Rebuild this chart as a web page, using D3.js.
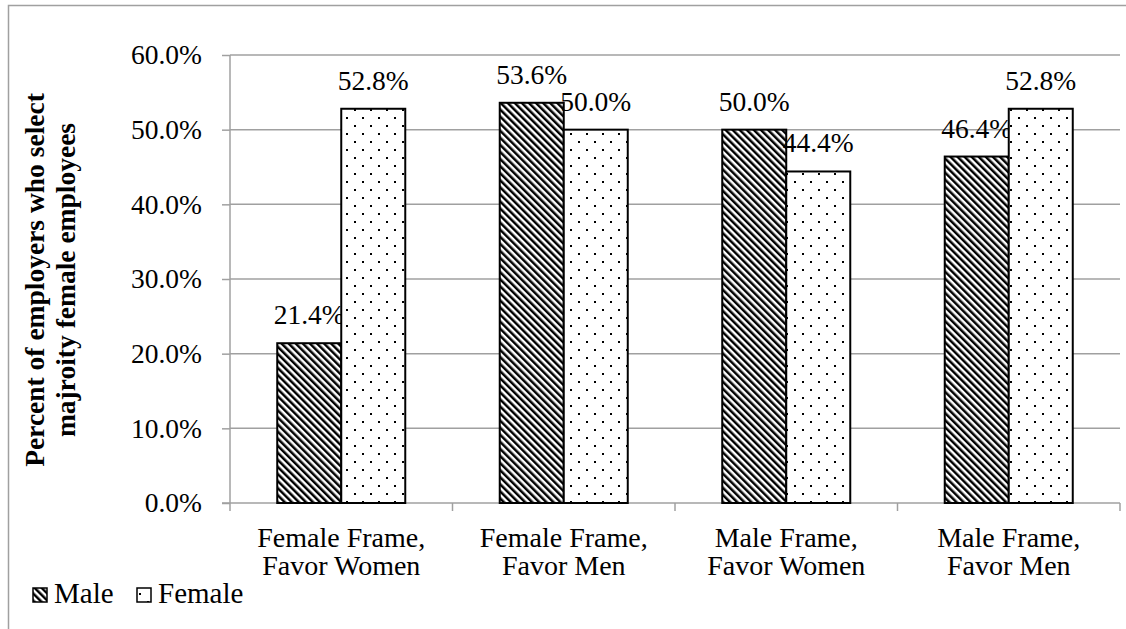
<!DOCTYPE html>
<html>
<head>
<meta charset="utf-8">
<script src="https://cdn.jsdelivr.net/npm/d3@7"></script>
<style>
body { margin: 0; background: #fff; }
svg text { font-family: "Liberation Serif", "Times New Roman", "DejaVu Serif", serif; }
</style>
</head>
<body>
<svg id="vis"></svg>
<script>
const categories = [['Female Frame,', 'Favor Women'], ['Female Frame,', 'Favor Men'], ['Male Frame,', 'Favor Women'], ['Male Frame,', 'Favor Men']];
const seriesNames = ['Male', 'Female'];
const maleValues = [21.4, 53.6, 50.0, 46.4];
const femaleValues = [52.8, 50.0, 44.4, 52.8];
const yTicks = [0, 10, 20, 30, 40, 50, 60];
const yTitle = ['Percent of employers who select', 'majroity female employees'];

const width = 1126, height = 629;
const margin = {left: 230, right: 6, top: 55, bottom: 126};
const FONT = '"Liberation Serif", "Times New Roman", serif';
const FS = 27.5;
const GRID = '#a0a0a0';

var svg = d3.select('#vis').attr('width', width).attr('height', height)
    .attr('font-family', FONT);
var defs = svg.append('defs');

// diagonal stripes for male
var stripe = defs.append('pattern').attr('id', 'stripes')
    .attr('patternUnits', 'userSpaceOnUse').attr('width', 5).attr('height', 5)
    .attr('patternTransform', 'rotate(-45)');
stripe.append('rect').attr('width', 5).attr('height', 5).attr('fill', 'white');
stripe.append('rect').attr('x', 0).attr('width', 2.5).attr('height', 5).attr('fill', 'black');

// dots for female
var dots = defs.append('pattern').attr('id', 'dots')
    .attr('patternUnits', 'userSpaceOnUse').attr('width', 16).attr('height', 16);
dots.append('rect').attr('width', 16).attr('height', 16).attr('fill', 'white');
dots.append('rect').attr('x', 2).attr('y', 13).attr('width', 2).attr('height', 2).attr('fill', 'black');
dots.append('rect').attr('x', 10).attr('y', 5).attr('width', 2).attr('height', 2).attr('fill', 'black');

var fills = ['url(#stripes)', 'url(#dots)'];

// outer chart border
svg.append('rect').attr('x', 8.5).attr('y', 5.5).attr('width', width).attr('height', height)
    .attr('fill', 'none').attr('stroke', GRID).attr('stroke-width', 1.5);

var x0 = d3.scaleBand().domain(d3.range(categories.length))
    .range([margin.left, width - margin.right]);
var x1 = d3.scaleBand().domain(seriesNames).range([0, x0.bandwidth()]).paddingInner(0).paddingOuter(0.738);
var y = d3.scaleLinear().domain([0, 60]).range([height - margin.bottom, margin.top]);

// gridlines
svg.append('g').selectAll('line').data(yTicks.slice(1)).join('line')
    .attr('x1', margin.left).attr('x2', width - margin.right)
    .attr('y1', d => y(d)).attr('y2', d => y(d))
    .attr('stroke', GRID).attr('stroke-width', 1.5);

// y axis
var yAxis = svg.append('g').attr('transform', 'translate(' + margin.left + ',0)')
    .call(d3.axisLeft(y).tickValues(yTicks).tickSize(8).tickPadding(20).tickFormat(d => d.toFixed(1) + '%'));
yAxis.attr('font-family', FONT).attr('font-size', FS);
yAxis.select('.domain').attr('stroke', GRID).attr('stroke-width', 1.5).attr('d', 'M0,' + y(60) + 'V' + y(0));
yAxis.selectAll('.tick line').attr('stroke', GRID).attr('stroke-width', 1.5);
yAxis.selectAll('.tick text').attr('fill', 'black');

// x axis
var xAxis = svg.append('g').attr('transform', 'translate(0,' + y(0) + ')');
xAxis.append('line').attr('x1', margin.left - 8).attr('x2', width - margin.right)
    .attr('stroke', GRID).attr('stroke-width', 1.5);
xAxis.selectAll('.xt').data(d3.range(categories.length + 1)).join('line')
    .attr('x1', d => margin.left + d * x0.step()).attr('x2', d => margin.left + d * x0.step())
    .attr('y1', 0).attr('y2', 8).attr('stroke', GRID).attr('stroke-width', 1.5);
categories.forEach(function(c, i) {
    var cx = x0(i) + x0.bandwidth() / 2;
    var t = xAxis.append('text').attr('text-anchor', 'middle').attr('font-size', 28);
    c.forEach(function(line, j) {
        t.append('tspan').attr('x', cx).attr('y', 44 + j * 28).text(line);
    });
});

// bars
var series = [maleValues, femaleValues];
series.forEach(function(vals, s) {
    var g = svg.append('g');
    g.selectAll('rect').data(vals).join('rect')
        .attr('x', (d, i) => x0(i) + x1(seriesNames[s]))
        .attr('y', d => y(d))
        .attr('width', x1.bandwidth())
        .attr('height', d => y(0) - y(d))
        .attr('fill', fills[s]).attr('stroke', 'black').attr('stroke-width', 2);
    g.selectAll('text').data(vals).join('text')
        .attr('x', (d, i) => x0(i) + x1(seriesNames[s]) + x1.bandwidth() / 2)
        .attr('y', d => y(d) - 19)
        .attr('text-anchor', 'middle').attr('font-size', FS)
        .text(d => d.toFixed(1) + '%');
});

// y title
var title = svg.append('text').attr('transform', 'translate(44,280) rotate(-90)')
    .attr('text-anchor', 'middle').attr('font-size', FS).attr('font-weight', 'bold');
yTitle.forEach(function(line, j) {
    title.append('tspan').attr('x', 0).attr('y', j * 31).text(line);
});

// legend
var legend = svg.append('g').attr('transform', 'translate(33,588)');
seriesNames.forEach(function(name, i) {
    var lx = i * 104;
    legend.append('rect').attr('x', lx).attr('y', 0).attr('width', 14).attr('height', 14)
        .attr('fill', fills[i]).attr('stroke', 'black').attr('stroke-width', 1.5);
    legend.append('text').attr('x', lx + 21).attr('y', 15).attr('font-size', 29).text(name);
});
</script>
</body>
</html>
